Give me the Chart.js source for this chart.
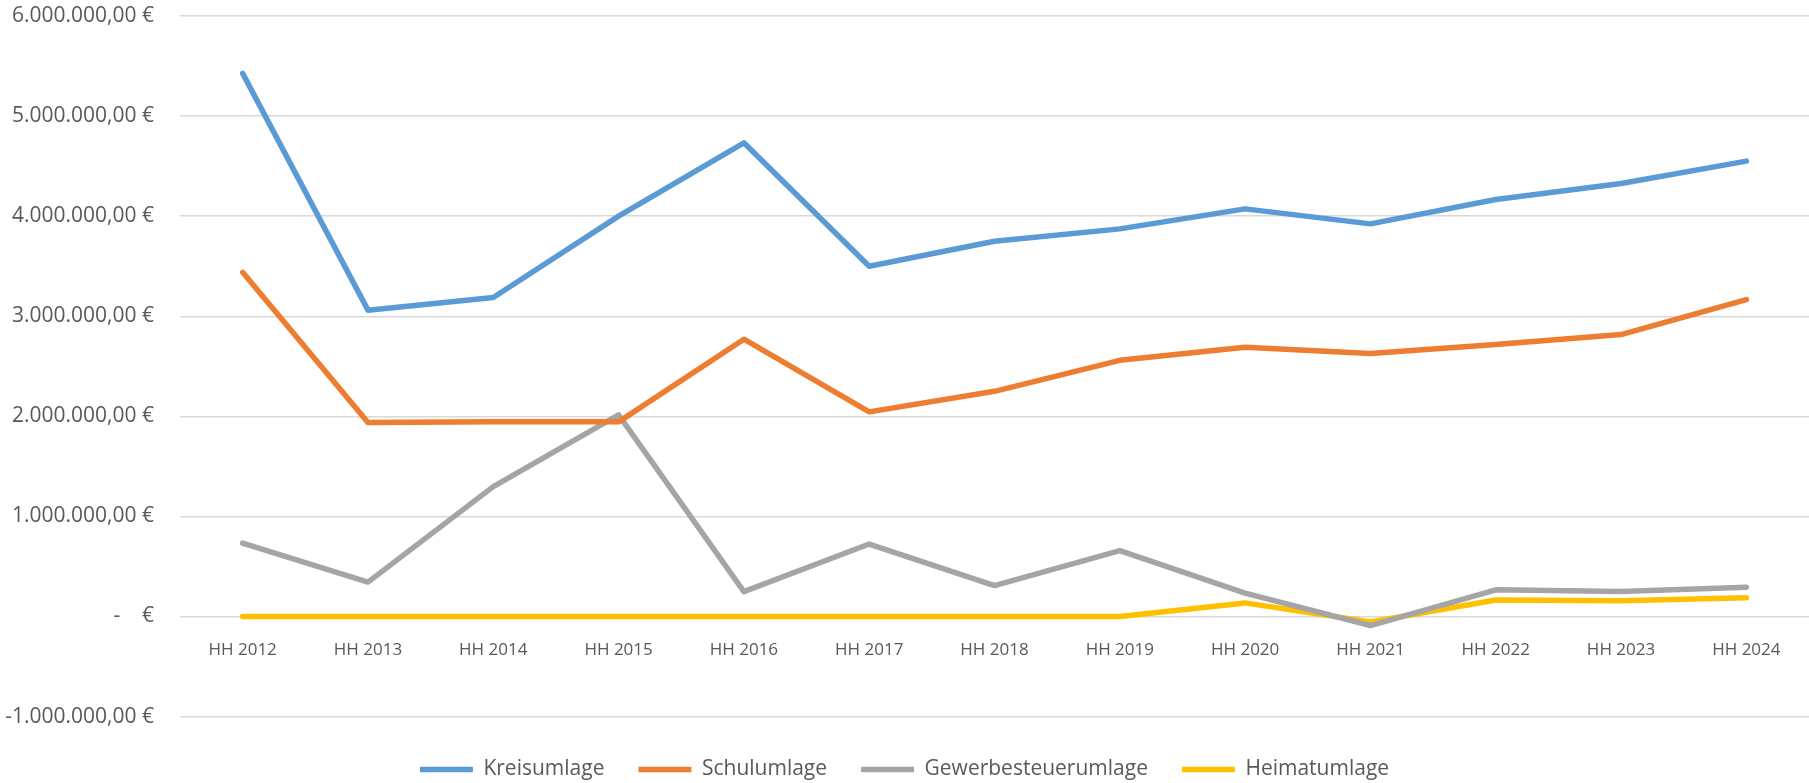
<!DOCTYPE html>
<html>
<head>
<meta charset="utf-8">
<script src="https://cdn.jsdelivr.net/npm/chart.js@4"></script>
<style>
  html, body { margin: 0; padding: 0; background: #fff; }
  #wrap { width: 1809px; height: 783px; }
</style>
</head>
<body>
<div id="wrap"><canvas id="umlagenChart"></canvas></div>
<script>
const years = ['HH 2012', 'HH 2013', 'HH 2014', 'HH 2015', 'HH 2016', 'HH 2017', 'HH 2018',
               'HH 2019', 'HH 2020', 'HH 2021', 'HH 2022', 'HH 2023', 'HH 2024'];
const kreisumlage = [5427000, 3061000, 3187000, 4000000, 4733000, 3500000, 3750000,
                     3873000, 4073000, 3923000, 4167000, 4327000, 4550000];
const schulumlage = [3439000, 1939000, 1945000, 1945000, 2771000, 2045000, 2250000,
                     2560000, 2690000, 2627000, 2717000, 2817000, 3167000];
const gewerbesteuerumlage = [733000, 344000, 1298000, 2015000, 248000, 724000, 309000,
                             658000, 233000, -90000, 267000, 250000, 293000];
const heimatumlage = [0, 0, 0, 0, 0, 0, 0, 0, 136000, -55000, 165000, 158000, 187000];

const textColor = '#595959';
const fontFamily = '"Open Sans", sans-serif';

function line(label, data, color) {
    return {
        label: label,
        data: data,
        borderColor: color,
        backgroundColor: color,
        borderWidth: 5.5,
        borderCapStyle: 'round',
        borderJoinStyle: 'round',
        pointRadius: 0,
        tension: 0
    };
}

// Excel accounting format: 1.000.000,00 €  /  "-   €" for zero
function euro(value) {
    if (value === 0) return '-    €';
    return value.toLocaleString('de-DE', { minimumFractionDigits: 2, maximumFractionDigits: 2 }) + ' €';
}

const ctx = document.getElementById('umlagenChart').getContext('2d');
new Chart(ctx, {
    type: 'line',
    data: {
        labels: years,
        datasets: [
            line('Kreisumlage', kreisumlage, '#5B9BD5'),
            line('Schulumlage', schulumlage, '#ED7D31'),
            line('Gewerbesteuerumlage', gewerbesteuerumlage, '#A5A5A5'),
            line('Heimatumlage', heimatumlage, '#FFC000')
        ]
    },
    options: {
        responsive: true,
        maintainAspectRatio: false,
        animation: false,
        layout: { padding: { top: 16, right: 0, bottom: -7, left: 0 } },
        plugins: {
            tooltip: { enabled: false },
            legend: {
                position: 'bottom',
                // empty title only used as spacer above the legend row
                title: { display: true, text: '', font: { size: 7 }, padding: 0 },
                labels: {
                    color: textColor,
                    font: { family: fontFamily, size: 21 },
                    usePointStyle: true,
                    pointStyle: 'line',
                    pointStyleWidth: 53,
                    boxHeight: 5,
                    padding: 34
                }
            }
        },
        scales: {
            x: {
                position: { y: 0 },
                offset: true,
                grid: { display: false, drawTicks: false },
                border: { display: false },
                ticks: {
                    color: textColor,
                    font: { family: fontFamily, size: 17 },
                    padding: 23,
                    maxRotation: 0
                }
            },
            y: {
                min: -1000000,
                max: 6000000,
                afterFit: scale => { scale.width = 180; },
                grid: {
                    color: '#D9D9D9',
                    lineWidth: 1.5,
                    drawTicks: true,
                    tickLength: 26,
                    tickColor: 'rgba(0,0,0,0)'
                },
                border: { display: false },
                ticks: {
                    stepSize: 1000000,
                    color: textColor,
                    font: { family: fontFamily, size: 21 },
                    padding: 0,
                    callback: euro
                }
            }
        }
    }
});
</script>
</body>
</html>
